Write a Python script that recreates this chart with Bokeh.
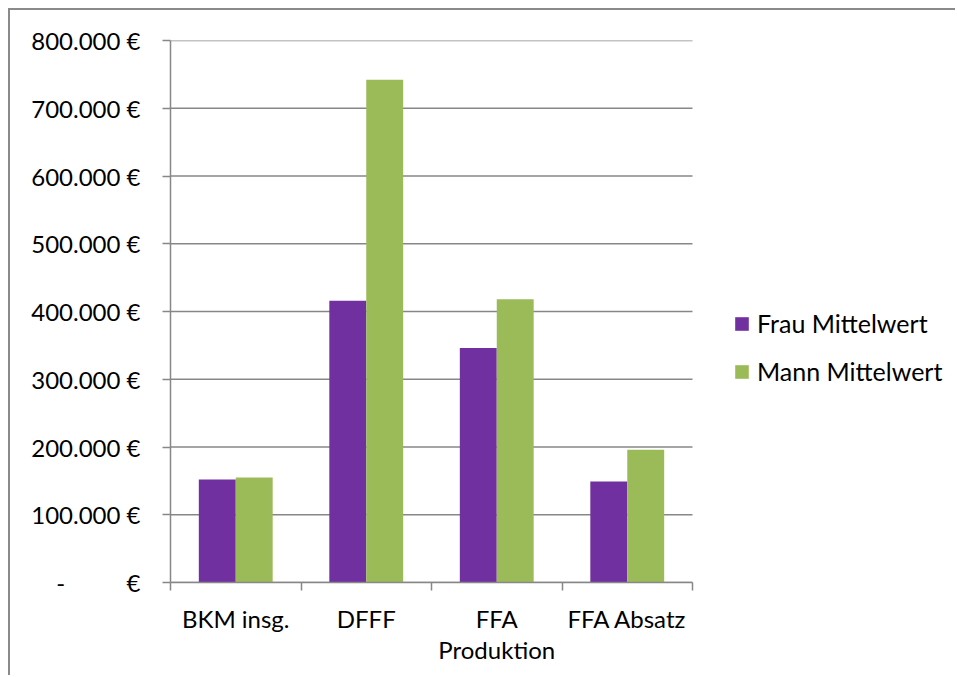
from bokeh.plotting import figure
from bokeh.models import Range1d, FixedTicker, ColumnDataSource, Legend, LegendItem
from bokeh.transform import dodge
from bokeh.embed import file_html
from bokeh.resources import INLINE
import numpy as np

categories = ["BKM insg.", "DFFF", "FFA\nProduktion", "FFA Absatz"]
frau_mittelwert = [152000, 416000, 346000, 149000]
mann_mittelwert = [155000, 742000, 418000, 196000]
y_ticks = [0, 100000, 200000, 300000, 400000, 500000, 600000, 700000, 800000]
y_tick_labels = ["-" + "\u00a0" * 10 + "€", "100.000 €", "200.000 €", "300.000 €", "400.000 €",
                 "500.000 €", "600.000 €", "700.000 €", "800.000 €"]

FONT = "Lato"
GRID = "#878787"
PURPLE = "#7030A0"
GREEN = "#9BBB59"

n = len(categories)
pos = (np.arange(n) + 0.5).tolist()
src = ColumnDataSource(dict(pos=pos, frau=frau_mittelwert, mann=mann_mittelwert))

# frame spans to the right edge so the legend can sit inside it; the axis/grid stop at the last category
frame_w = 947 - 160
x_end = n * frame_w / 522.0

p = figure(width=947, height=667, output_backend="svg", toolbar_location=None,
           x_range=Range1d(0, x_end), y_range=Range1d(0, 800000))
p.min_border_left = 160
p.min_border_right = 0
p.min_border_top = 30
p.min_border_bottom = 667 - 30 - 542
p.outline_line_color = None
p.background_fill_color = "white"
p.border_fill_color = "white"
p.styles = {"margin-left": "8px", "margin-top": "8px",
            "border-left": "2px solid #8a8a8a", "border-top": "2px solid #8a8a8a"}

# horizontal grid lines over the category area only
p.segment(x0=[0] * len(y_ticks), x1=[n] * len(y_ticks), y0=y_ticks, y1=y_ticks,
          line_color=GRID, line_width=1.5)

bw = 0.283
r1 = p.vbar(x=dodge("pos", -bw / 2, range=p.x_range), top="frau", width=bw, source=src,
            fill_color=PURPLE, line_color=None)
r2 = p.vbar(x=dodge("pos", bw / 2, range=p.x_range), top="mann", width=bw, source=src,
            fill_color=GREEN, line_color=None)

# x axis
xa = p.xaxis[0]
xa.bounds = (0, n)
xa.ticker = FixedTicker(ticks=pos, minor_ticks=list(range(n + 1)))
xa.major_label_overrides = {pv: c for pv, c in zip(pos, categories)}
xa.major_tick_line_color = None
xa.major_tick_in = 0
xa.major_tick_out = 8
xa.minor_tick_in = 0
xa.minor_tick_out = 8
xa.minor_tick_line_color = GRID
xa.minor_tick_line_width = 1.5
xa.axis_line_color = GRID
xa.axis_line_width = 1.5
xa.major_label_text_font = FONT
xa.major_label_text_font_size = "24px"
xa.major_label_text_line_height = 1.08
xa.major_label_text_color = "black"
xa.major_label_standoff = 13

# y axis
ya = p.yaxis[0]
ya.ticker = FixedTicker(ticks=y_ticks)
ya.major_label_overrides = {t: l for t, l in zip(y_ticks, y_tick_labels)}
ya.minor_tick_line_color = None
ya.major_tick_in = 0
ya.major_tick_out = 8
ya.major_tick_line_color = GRID
ya.major_tick_line_width = 1.5
ya.axis_line_color = GRID
ya.axis_line_width = 1.5
ya.major_label_text_font = FONT
ya.major_label_text_font_size = "24px"
ya.major_label_text_color = "black"
ya.major_label_standoff = 22

p.xgrid.grid_line_color = None
p.ygrid.grid_line_color = None

legend = Legend(items=[LegendItem(label="Frau Mittelwert", renderers=[r1]),
                       LegendItem(label="Mann Mittelwert", renderers=[r2])],
                location=(563, 196))
legend.label_text_font = FONT
legend.label_text_font_size = "25px"
legend.label_text_color = "black"
legend.glyph_width = 17
legend.glyph_height = 17
legend.label_standoff = 7
legend.spacing = 18
legend.margin = 0
legend.padding = 0
legend.border_line_color = None
legend.background_fill_alpha = 0
p.add_layout(legend, "center")

open("out.html", "w").write(file_html(p, INLINE))
